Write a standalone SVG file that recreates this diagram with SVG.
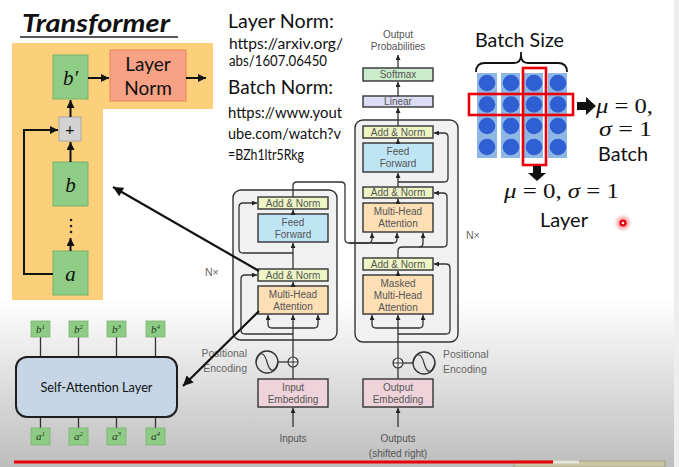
<svg xmlns="http://www.w3.org/2000/svg" width="679" height="467" viewBox="0 0 679 467">
<defs>
<linearGradient id="bg" x1="0" y1="0" x2="0" y2="467" gradientUnits="userSpaceOnUse">
<stop offset="0" stop-color="#ffffff"/>
<stop offset="0.64" stop-color="#ffffff"/>
<stop offset="1" stop-color="#bdbdbd"/>
</linearGradient>
<radialGradient id="glow">
<stop offset="0" stop-color="#ff0000" stop-opacity="0.6"/>
<stop offset="1" stop-color="#ff0000" stop-opacity="0"/>
</radialGradient>
<marker id="ah" viewBox="0 0 10 10" refX="10" refY="5" markerWidth="5" markerHeight="5" markerUnits="userSpaceOnUse" orient="auto">
<path d="M0,0 L10,5 L0,10 z" fill="#222"/>
</marker>
<marker id="am" viewBox="0 0 10 10" refX="10" refY="5" markerWidth="8" markerHeight="8" markerUnits="userSpaceOnUse" orient="auto">
<path d="M0,0 L10,5 L0,10 z" fill="#111"/>
</marker>
<marker id="ab" viewBox="0 0 10 10" refX="10" refY="5" markerWidth="11" markerHeight="10" markerUnits="userSpaceOnUse" orient="auto">
<path d="M0,0 L10,5 L0,10 z" fill="#111"/>
</marker>
<style>
.sans{font-family:"Lato","Liberation Sans",Arial,sans-serif;fill:#111}
.lbl{font-family:"Liberation Sans",Arial,sans-serif;font-size:10px;fill:#555;text-anchor:middle}
.glbl{font-family:"Liberation Sans",Arial,sans-serif;font-size:10.5px;fill:#666}
.math{font-family:"Liberation Serif","DejaVu Serif",serif;fill:#111}
.ln{fill:none;stroke:#333;stroke-width:1.3}
.ar{fill:none;stroke:#333;stroke-width:1.3;marker-end:url(#ah)}
.box{stroke:#333;stroke-width:1.4}
.an{fill:#eef5c4}
.ff{fill:#bfe4f4}
.mh{fill:#fcdfb5}
.em{fill:#efd3da}
.grn{fill:#8fcd86;stroke:#74b36a;stroke-width:1}
.sq{fill:#8ecb85;stroke:#7ab371;stroke-width:0.8}
.sub{font-family:"Liberation Serif","DejaVu Serif",serif;font-style:italic;font-size:11px;fill:#1c3a1c;text-anchor:middle}
.col{fill:#8fb7e6}
.dot{fill:#2f5fd2}
.red{fill:none;stroke:#e8000b;stroke-width:2.6}
.big{fill:none;stroke:#111;stroke-width:2.2}
</style>
</defs>

<rect x="0" y="0" width="679" height="467" fill="url(#bg)"/>
<rect x="674" y="0" width="5" height="467" fill="#eeeeee"/>

<!-- Title -->
<g id="title">
<text x="22" y="32" class="sans" font-size="25" font-weight="bold" font-style="italic" textLength="148" lengthAdjust="spacingAndGlyphs">Transformer</text>
<line x1="20" y1="37" x2="178" y2="37" stroke="#222" stroke-width="1.5"/>
</g>

<!-- Yellow block -->
<g id="residual-block">
<path d="M12,43 H213 V109 H103 V300 H12 Z" fill="#fcd07a"/>
<g id="bprime"><rect x="53" y="55" width="35" height="44" class="grn"/><text x="70.5" y="85" class="math" font-size="21" font-style="italic" text-anchor="middle">b′</text></g>
<g id="layernorm"><rect x="110" y="50" width="76" height="51" fill="#f7a284" stroke="#e7845f" stroke-width="1"/>
<text x="148" y="71" class="sans" font-size="19" text-anchor="middle" fill="#222">Layer</text>
<text x="148" y="95" class="sans" font-size="19" text-anchor="middle" fill="#222">Norm</text></g>
<g id="plus"><rect x="59" y="117" width="22" height="24" fill="#d3d3d3" stroke="#a8a8a8" stroke-width="1"/><text x="70" y="135" class="sans" font-size="16" text-anchor="middle" fill="#222">+</text></g>
<g id="b"><rect x="53" y="162" width="35" height="44" class="grn"/><text x="70.5" y="192" class="math" font-size="21" font-style="italic" text-anchor="middle">b</text></g>
<g id="dots" fill="#222"><circle cx="71" cy="220" r="1.3"/><circle cx="71" cy="226" r="1.3"/><circle cx="71" cy="232" r="1.3"/></g>
<g id="a"><rect x="53" y="251" width="35" height="44" class="grn"/><text x="70.5" y="281" class="math" font-size="21" font-style="italic" text-anchor="middle">a</text></g>
<g id="block-connectors" fill="none" stroke="#111" stroke-width="2" marker-end="url(#am)">
<path d="M88,78 H109"/>
<path d="M186,78 H206"/>
<path d="M70.5,117 V100"/>
<path d="M70.5,162 V142"/>
<path d="M70.5,251 V238"/>
<path d="M53,274 H24 V130 H58"/>
</g>
</g>

<!-- Text notes -->
<g id="notes">
<text x="228" y="28" class="sans" font-size="20" textLength="106" lengthAdjust="spacingAndGlyphs">Layer Norm:</text>
<text x="229" y="49" class="sans" font-size="14.5" textLength="114" lengthAdjust="spacingAndGlyphs">https://arxiv.org/</text>
<text x="229" y="66" class="sans" font-size="14.5" textLength="98" lengthAdjust="spacingAndGlyphs">abs/1607.06450</text>
<text x="228" y="94" class="sans" font-size="20" textLength="105" lengthAdjust="spacingAndGlyphs">Batch Norm:</text>
<text x="228" y="118" class="sans" font-size="14.5" textLength="114" lengthAdjust="spacingAndGlyphs">https://www.yout</text>
<text x="228" y="139" class="sans" font-size="14.5" textLength="113" lengthAdjust="spacingAndGlyphs">ube.com/watch?v</text>
<text x="228" y="160" class="sans" font-size="14.5" textLength="76" lengthAdjust="spacingAndGlyphs">=BZh1ltr5Rkg</text>
</g>

<!-- Transformer architecture -->
<g id="encoder">
<rect x="233" y="190" width="104" height="150" rx="8" fill="#f1f1f1" stroke="#333" stroke-width="1.4"/>
<g id="enc-addnorm2"><rect x="258" y="197" width="70" height="12" class="box an"/><text x="293" y="206.5" class="lbl">Add &amp; Norm</text></g>
<g id="enc-ff"><rect x="258" y="214" width="70" height="28" class="box ff"/><text x="293" y="226" class="lbl">Feed</text><text x="293" y="238" class="lbl">Forward</text></g>
<g id="enc-addnorm1"><rect x="258" y="269" width="70" height="12" class="box an"/><text x="293" y="278.5" class="lbl">Add &amp; Norm</text></g>
<g id="enc-mha"><rect x="258" y="286" width="70" height="28" class="box mh"/><text x="293" y="298" class="lbl">Multi-Head</text><text x="293" y="310" class="lbl">Attention</text></g>
<text x="205" y="276" class="glbl" font-size="10">N×</text>
</g>

<g id="decoder">
<rect x="355" y="120" width="103" height="222" rx="8" fill="#f1f1f1" stroke="#333" stroke-width="1.4"/>
<g id="dec-addnorm3"><rect x="363" y="126" width="70" height="12" class="box an"/><text x="398" y="135.5" class="lbl">Add &amp; Norm</text></g>
<g id="dec-ff"><rect x="363" y="143" width="70" height="29" class="box ff"/><text x="398" y="155" class="lbl">Feed</text><text x="398" y="167" class="lbl">Forward</text></g>
<g id="dec-addnorm2"><rect x="363" y="187" width="70" height="11" class="box an"/><text x="398" y="196" class="lbl">Add &amp; Norm</text></g>
<g id="dec-mha"><rect x="363" y="203" width="70" height="29" class="box mh"/><text x="398" y="215" class="lbl">Multi-Head</text><text x="398" y="227" class="lbl">Attention</text></g>
<g id="dec-addnorm1"><rect x="363" y="258" width="70" height="12" class="box an"/><text x="398" y="267.5" class="lbl">Add &amp; Norm</text></g>
<g id="dec-mmha"><rect x="363" y="275" width="70" height="39" class="box mh"/><text x="398" y="287" class="lbl">Masked</text><text x="398" y="299" class="lbl">Multi-Head</text><text x="398" y="311" class="lbl">Attention</text></g>
<text x="466" y="239" class="glbl" font-size="10">N×</text>
</g>

<g id="linear"><rect x="363" y="96" width="70" height="11" class="box" fill="#dcdcf4"/><text x="398" y="105" class="lbl">Linear</text></g>
<g id="softmax"><rect x="363" y="68" width="70" height="13" class="box" fill="#cbeccb"/><text x="398" y="78" class="lbl">Softmax</text></g>
<g id="outprob"><text x="398" y="38" class="lbl" fill="#777">Output</text><text x="398" y="50" class="lbl" fill="#777">Probabilities</text></g>

<g id="input-embedding"><rect x="258" y="379" width="70" height="28" class="box em"/><text x="293" y="391" class="lbl">Input</text><text x="293" y="403" class="lbl">Embedding</text></g>
<g id="output-embedding"><rect x="363" y="379" width="70" height="28" class="box em"/><text x="398" y="391" class="lbl">Output</text><text x="398" y="403" class="lbl">Embedding</text></g>

<g id="enc-posenc">
<circle cx="293" cy="362" r="5" fill="#f4f4f4" stroke="#333" stroke-width="1.2"/>
<path d="M288,362 H298 M293,357 V367" stroke="#333" stroke-width="1"/>
<circle cx="267" cy="362" r="11" fill="none" stroke="#333" stroke-width="1.3"/>
<path d="M256,362 C259,351 264,351 267,362 C270,373 275,373 278,362" fill="none" stroke="#333" stroke-width="1.2"/>
<text x="247" y="357" class="glbl" text-anchor="end">Positional</text>
<text x="247" y="372" class="glbl" text-anchor="end">Encoding</text>
</g>
<g id="dec-posenc">
<circle cx="398" cy="363" r="5" fill="#f4f4f4" stroke="#333" stroke-width="1.2"/>
<path d="M393,363 H403 M398,358 V368" stroke="#333" stroke-width="1"/>
<circle cx="424" cy="363" r="11" fill="none" stroke="#333" stroke-width="1.3"/>
<path d="M413,363 C416,352 421,352 424,363 C427,374 432,374 435,363" fill="none" stroke="#333" stroke-width="1.2"/>
<text x="443" y="358" class="glbl">Positional</text>
<text x="443" y="373" class="glbl">Encoding</text>
</g>
<g id="io-labels">
<text x="293" y="442" class="lbl" font-size="10.5" fill="#555">Inputs</text>
<text x="398" y="442" class="lbl" font-size="10.5" fill="#555">Outputs</text>
<text x="398" y="457" class="lbl" font-size="10.5" fill="#555">(shifted right)</text>
</g>

<g id="connectors">
<!-- encoder -->
<path class="ar" d="M293,427 V408"/>
<path class="ln" d="M293,379 V367"/>
<path class="ln" d="M278,362 H288"/>
<path class="ar" d="M293,357 V315"/>
<path class="ar" d="M293,328 H272 Q268,328 268,324 V315"/>
<path class="ar" d="M293,328 H314 Q318,328 318,324 V315"/>
<path class="ar" d="M293,334 H245 Q241,334 241,330 V279 Q241,275 245,275 H257"/>
<path class="ar" d="M293,286 V282"/>
<path class="ar" d="M293,269 V243"/>
<path class="ar" d="M293,253 H243 Q239,253 239,249 V207 Q239,203 243,203 H257"/>
<path class="ar" d="M293,214 V210"/>
<path class="ln" d="M293,197 V186 Q293,182 297,182 H341 Q345,182 345,186 V239 Q345,243 349,243 H393"/>
<path class="ar" d="M349,243 H368 Q372,243 372,239 V233"/>
<path class="ar" d="M372,243 H393 Q397,243 397,239 V233"/>
<!-- decoder -->
<path class="ar" d="M398,427 V408"/>
<path class="ln" d="M398,379 V368"/>
<path class="ln" d="M403,363 H413"/>
<path class="ar" d="M398,358 V315"/>
<path class="ar" d="M398,328 H376 Q372,328 372,324 V315"/>
<path class="ar" d="M398,328 H419 Q423,328 423,324 V315"/>
<path class="ar" d="M398,334 H446 Q450,334 450,330 V268 Q450,264 446,264 H434"/>
<path class="ar" d="M398,275 V271"/>
<path class="ar" d="M398,258 V251 Q398,247 402,247 H419 Q423,247 423,243 V233"/>
<path class="ar" d="M419,247 H443 Q447,247 447,243 V197 Q447,193 443,193 H434"/>
<path class="ar" d="M398,203 V199"/>
<path class="ar" d="M398,187 V173"/>
<path class="ar" d="M398,182 H444 Q448,182 448,178 V137 Q448,133 444,133 H434"/>
<path class="ar" d="M398,143 V139"/>
<path class="ar" d="M398,126 V108"/>
<path class="ar" d="M398,96 V82"/>
<path class="ar" d="M398,68 V55"/>
<!-- big pointers -->
<path class="big" d="M259,271 L113,187" marker-end="url(#ab)"/>
<path class="big" d="M259,311 L183,386" marker-end="url(#ab)"/>
<!-- self-attention io lines -->
<g stroke="#333" stroke-width="1.3">
<path d="M40.5,337 V357 M78.5,337 V357 M116.5,337 V357 M155.5,337 V357"/>
<path d="M40.5,417 V428 M78.5,417 V428 M116.5,417 V428 M155.5,417 V428"/>
</g>
</g>

<!-- Self attention -->
<g id="self-attention">
<rect x="16" y="357" width="161" height="60" rx="11" fill="#c7d6e6" stroke="#1e1e1e" stroke-width="2"/>
<text x="96.5" y="392" class="sans" font-size="13" text-anchor="middle" fill="#222" textLength="112" lengthAdjust="spacingAndGlyphs">Self-Attention Layer</text>
</g>
<g id="b-outputs">
<rect x="31" y="321" width="19" height="16" class="sq"/><text x="40.5" y="333" class="sub">b<tspan font-size="7" dy="-4">1</tspan></text>
<rect x="69" y="321" width="19" height="16" class="sq"/><text x="78.5" y="333" class="sub">b<tspan font-size="7" dy="-4">2</tspan></text>
<rect x="107" y="321" width="19" height="16" class="sq"/><text x="116.5" y="333" class="sub">b<tspan font-size="7" dy="-4">3</tspan></text>
<rect x="146" y="321" width="19" height="16" class="sq"/><text x="155.5" y="333" class="sub">b<tspan font-size="7" dy="-4">4</tspan></text>
</g>
<g id="a-inputs">
<rect x="31" y="428" width="19" height="17" class="sq"/><text x="40.5" y="440" class="sub">a<tspan font-size="7" dy="-4">1</tspan></text>
<rect x="69" y="428" width="19" height="17" class="sq"/><text x="78.5" y="440" class="sub">a<tspan font-size="7" dy="-4">2</tspan></text>
<rect x="107" y="428" width="19" height="17" class="sq"/><text x="116.5" y="440" class="sub">a<tspan font-size="7" dy="-4">3</tspan></text>
<rect x="146" y="428" width="19" height="17" class="sq"/><text x="155.5" y="440" class="sub">a<tspan font-size="7" dy="-4">4</tspan></text>
</g>

<!-- Batch / layer normalization illustration -->
<g id="norm-grid">
<text x="475" y="47" class="sans" font-size="19" textLength="89" lengthAdjust="spacingAndGlyphs">Batch Size</text>
<path d="M476,72 Q476,63 485,63 H514 Q521,63 521,55 V52 M521,52 V55 Q521,63 528,63 H558 Q567,63 567,72" fill="none" stroke="#111" stroke-width="1.8"/>
<rect x="477" y="73" width="20" height="85" class="col"/>
<rect x="501" y="73" width="19" height="85" class="col"/>
<rect x="524" y="73" width="19" height="85" class="col"/>
<rect x="548" y="73" width="19" height="85" class="col"/>
<g class="dot">
<circle cx="487" cy="83" r="8.3"/><circle cx="511" cy="83" r="8.3"/><circle cx="534" cy="83" r="8.3"/><circle cx="558" cy="83" r="8.3"/>
<circle cx="487" cy="104.5" r="8.3"/><circle cx="511" cy="104.5" r="8.3"/><circle cx="534" cy="104.5" r="8.3"/><circle cx="558" cy="104.5" r="8.3"/>
<circle cx="487" cy="126" r="8.3"/><circle cx="511" cy="126" r="8.3"/><circle cx="534" cy="126" r="8.3"/><circle cx="558" cy="126" r="8.3"/>
<circle cx="487" cy="147" r="8.3"/><circle cx="511" cy="147" r="8.3"/><circle cx="534" cy="147" r="8.3"/><circle cx="558" cy="147" r="8.3"/>
</g>
<rect x="469" y="94" width="104" height="21" class="red"/>
<rect x="523" y="68" width="23" height="97" class="red"/>
<path d="M577,102 H586 V97 L596,106 L586,115 V110 H577 Z" fill="#111"/>
<path d="M533,166 H541 V173 H546 L537,181 L528,173 H533 Z" fill="#111"/>
<text x="596" y="113" class="math" font-size="20" textLength="57" lengthAdjust="spacingAndGlyphs"><tspan font-style="italic">μ</tspan> = 0,</text>
<text x="599" y="136" class="math" font-size="20" textLength="53" lengthAdjust="spacingAndGlyphs"><tspan font-style="italic">σ</tspan> = 1</text>
<text x="598" y="161" class="sans" font-size="19" textLength="50" lengthAdjust="spacingAndGlyphs">Batch</text>
<text x="504" y="198" class="math" font-size="21" textLength="115" lengthAdjust="spacingAndGlyphs"><tspan font-style="italic">μ</tspan> = 0, <tspan font-style="italic">σ</tspan> = 1</text>
<text x="540" y="227" class="sans" font-size="19" textLength="48" lengthAdjust="spacingAndGlyphs">Layer</text>
</g>

<g id="pointer-dot">
<circle cx="623" cy="223" r="9" fill="url(#glow)"/>
<circle cx="623" cy="223" r="3.6" fill="#e8000b"/>
<circle cx="623" cy="223" r="1.3" fill="#ffffff"/>
</g>

<!-- bottom bar -->
<g id="bottom-bar">
<rect x="514" y="461" width="151" height="6" fill="#c8c8a6" stroke="#9a9a80" stroke-width="0.8"/>
<rect x="14" y="460.5" width="539" height="3" fill="#e8000b"/>
<rect x="553" y="460.5" width="26" height="3" fill="#e4e4d8"/>
</g>
</svg>
